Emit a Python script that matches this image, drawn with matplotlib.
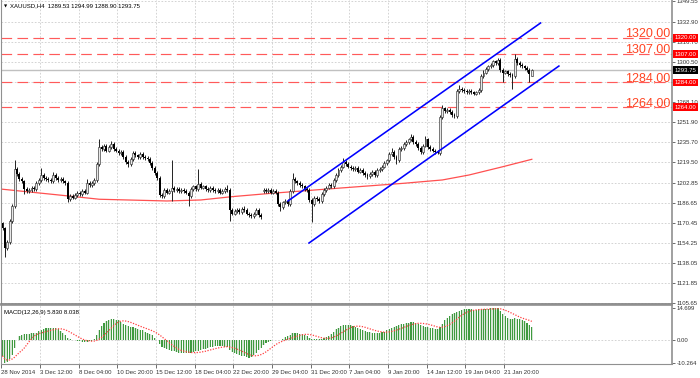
import matplotlib.pyplot as plt
import matplotlib.transforms as mtransforms
import numpy as np
import pandas as pd

plt.rcParams["font.family"] = ["Liberation Sans", "DejaVu Sans"]

# XAUUSD H4 closes (bar 0 = 28 Nov 2014)
closes = [
    1166, 1150, 1155, 1172, 1184, 1214, 1210, 1206, 1204, 1198,
    1196, 1197, 1199, 1198, 1203, 1205, 1209, 1207, 1206, 1205,
    1204, 1209, 1207, 1205, 1206, 1204, 1203, 1190, 1192, 1191,
    1193, 1195, 1194, 1196, 1195, 1203, 1201, 1203, 1205, 1218,
    1232, 1230, 1233, 1229, 1232, 1234, 1230, 1229, 1227, 1228,
    1224, 1220, 1218, 1222, 1227, 1225, 1224, 1226, 1224, 1223,
    1222, 1219, 1215, 1211, 1207, 1193, 1192, 1197, 1195, 1196,
    1199, 1197, 1198, 1196, 1197, 1196, 1195, 1192, 1198, 1200,
    1198, 1202, 1199, 1200, 1198, 1197, 1199, 1197, 1196, 1197,
    1195, 1196, 1198, 1197, 1181, 1178, 1180, 1181, 1179, 1182,
    1181, 1178, 1177, 1176, 1178, 1181, 1177, 1175, 1197, 1196,
    1197, 1195, 1196, 1195, 1186, 1183, 1187, 1188, 1186, 1196,
    1206, 1204, 1203, 1201, 1200, 1198, 1197, 1189, 1186, 1191,
    1190, 1188, 1194, 1197, 1199, 1201, 1200, 1205, 1209, 1213,
    1216, 1220, 1218, 1216, 1215, 1214, 1215, 1212, 1213, 1211,
    1209, 1208, 1210, 1212, 1209, 1213, 1214, 1216, 1219, 1221,
    1226, 1228, 1224, 1221, 1230, 1231, 1234, 1236, 1238, 1240,
    1236, 1234, 1231, 1228, 1233, 1238, 1232, 1230, 1229, 1228,
    1227, 1256, 1263, 1261, 1262, 1260, 1258, 1257, 1277, 1279,
    1278, 1277, 1276, 1277, 1276, 1275, 1276, 1278, 1289, 1292,
    1295, 1297, 1298, 1301, 1300, 1302, 1294, 1292, 1293, 1291,
    1290, 1289, 1303, 1300, 1298, 1297, 1296, 1294, 1291, 1293.75,
]
open_fix = {0: 1170, 108: 1196, 219: 1289.53}
high_fix = {5: 1221, 16: 1214.6, 21: 1212, 35: 1206, 40: 1238, 45: 1237,
            70: 1221, 81: 1214, 93: 1201, 100: 1184, 120: 1211, 141: 1223,
            161: 1231, 169: 1242.4, 175: 1241, 182: 1266, 189: 1282,
            199: 1294, 205: 1304, 212: 1307, 219: 1294.99}
low_fix = {1: 1143, 9: 1194, 27: 1187.5, 52: 1216, 70: 1188, 77: 1184,
           94: 1172, 115: 1180, 128: 1171.5, 151: 1206, 163: 1218,
           180: 1226, 207: 1284, 211: 1279, 218: 1284, 219: 1288.9}

macd = [
    -7.0, -10.2, -9.6, -8.6, -6.8, -3.6, 0.2, 1.8, 2.6, 2.9,
    3.0, 3.1, 3.2, 3.3, 3.5, 4.2, 4.6, 5.0, 5.4, 5.7,
    5.8, 5.8, 5.6, 5.0, 4.2, 3.2, 2.2, 1.0, 0.4, 0.2,
    0.0, -0.3, -0.5, -0.7, -0.8, -0.6, -0.4, -0.1, 0.8, 2.5,
    4.8, 6.5, 7.8, 8.8, 9.3, 9.6, 9.6, 9.4, 9.0, 8.3,
    7.6, 7.0, 6.6, 6.2, 6.0, 5.6, 5.2, 4.9, 4.5, 4.0,
    3.5, 3.0, 2.2, 1.2, 0.2, -1.5, -2.8, -3.5, -4.0, -4.4,
    -4.7, -5.0, -5.3, -5.5, -5.7, -5.8, -5.9, -5.9, -5.6, -5.3,
    -5.0, -4.6, -4.3, -4.0, -3.7, -3.4, -3.1, -2.9, -2.7, -2.6,
    -2.6, -2.7, -2.8, -3.0, -4.5, -5.3, -5.8, -6.3, -6.7, -7.0,
    -7.3, -7.6, -7.8, -7.5, -6.8, -5.8, -4.5, -3.5, -2.2, -1.2,
    -0.6, -0.2, 0.1, 0.3, 0.2, 0.3, 0.8, 1.4, 2.0, 2.6,
    3.2, 3.5, 3.4, 3.1, 2.7, 2.3, 1.8, 1.2, 0.8, 0.6,
    0.5, 0.4, 0.6, 0.9, 1.3, 2.0, 3.0, 4.0, 5.0, 5.8,
    6.4, 6.9, 7.0, 7.0, 6.8, 6.4, 6.0, 5.6, 5.2, 4.8,
    4.4, 4.0, 3.7, 3.5, 3.4, 3.4, 3.4, 3.6, 4.0, 4.5,
    5.0, 5.5, 6.0, 6.4, 6.8, 7.2, 7.5, 7.8, 8.0, 8.2,
    8.2, 8.0, 7.6, 7.0, 6.5, 6.2, 6.0, 5.7, 5.4, 5.2,
    5.0, 6.0, 7.6, 9.0, 10.2, 11.0, 11.8, 12.4, 13.0, 13.4,
    13.8, 14.0, 14.1, 14.1, 14.0, 13.9, 13.9, 14.0, 14.1, 14.2,
    14.2, 14.4, 14.5, 14.6, 14.7, 14.5, 13.2, 11.8, 10.8, 10.2,
    9.8, 9.6, 9.9, 9.8, 9.6, 9.3, 8.6, 7.8, 6.9, 5.83,
]

# moving average, read at a few bars
ma_idx = [0, 27, 40, 68, 82, 95, 110, 138, 166, 182, 193, 207, 219]
ma_vals = [1197.7, 1192.3, 1189.6, 1188.2, 1189.0, 1191.7, 1194.2,
           1198.4, 1202.5, 1205.2, 1209.2, 1215.9, 1221.9]

levels = [1320.0, 1307.0, 1284.0, 1264.0]
last_price = 1293.75
chan_upper_x = [118.1, 222.6]
chan_upper_y = [1188.2, 1332.1]
chan_lower_x = [126.8, 230.2]
chan_lower_y = [1154.2, 1297.3]

price_ticks = [1349.55, 1332.90, 1316.70, 1300.50, 1284.30, 1268.10,
               1251.90, 1235.70, 1219.50, 1202.85, 1186.65, 1170.45,
               1154.25, 1138.05, 1121.85, 1105.65]
hidden_ticks = [1284.30]  # sits under the 1284 level box
date_labels = ["28 Nov 2014", "3 Dec 12:00", "8 Dec 04:00", "10 Dec 20:00",
               "15 Dec 12:00", "18 Dec 04:00", "22 Dec 20:00", "29 Dec 04:00",
               "31 Dec 20:00", "7 Jan 04:00", "9 Jan 20:00", "14 Jan 12:00",
               "19 Jan 04:00", "21 Jan 20:00"]
macd_ticks = [14.699, 0.0, -10.264]

# build OHLC
n = len(closes)
idx = np.arange(n)
c = np.array(closes, dtype=float)
o = np.concatenate([[c[0]], c[:-1]])
for k, v in open_fix.items():
    o[k] = v
h = np.maximum(o, c) + 1.5
l = np.minimum(o, c) - 1.5
for k, v in high_fix.items():
    h[k] = v
for k, v in low_fix.items():
    l[k] = v
m = np.array(macd)
signal = pd.Series(m).rolling(9, min_periods=1).mean().values

W, H = 700, 378
fig = plt.figure(figsize=(7, 3.78), dpi=100)
left, right = 1.3, 672
ax = fig.add_axes([left / W, (H - 304) / H, (right - left) / W, 304 / H])
axm = fig.add_axes([left / W, (H - 364) / H, (right - left) / W, 59 / H])

xmax = (right - 2.5) / 2.417
tick_pos = [16 * k - 0.5 for k in range(len(date_labels))]
grid_kw = dict(color="#cccccc", linestyle=(0, (2, 2)), linewidth=0.6)
small = 4.3

# ---- price panel
ax.set_xlim(-0.5, xmax)
ax.set_ylim(1104.9, 1350.7)
for tp in tick_pos:
    ax.axvline(tp, zorder=0, **grid_kw)
for pt in price_ticks:
    ax.axhline(pt, zorder=0, **grid_kw)

ax.axhline(last_price, color="#c0c0c0", lw=1.0, zorder=1)
for lv in levels:
    ax.axhline(lv, color="#ff5a5a", lw=0.85, linestyle=(0, (9, 4.5)), zorder=1)

ax.plot(ma_idx, ma_vals, color="#ff5050", lw=0.9, zorder=2)

ax.vlines(idx, l, h, color="#222222", lw=0.7, zorder=3)
up = c >= o
ax.bar(idx[up], (c - o)[up], bottom=o[up], width=0.8, color="#e8e8e8",
       edgecolor="#333333", linewidth=0.45, zorder=4)
ax.bar(idx[~up], (o - c)[~up], bottom=c[~up], width=0.8, color="black",
       linewidth=0, zorder=4)

ax.plot(chan_upper_x, chan_upper_y, color="#0000ff", lw=1.15, zorder=5)
ax.plot(chan_lower_x, chan_lower_y, color="#0000ff", lw=1.15, zorder=5)

ax.yaxis.tick_right()
ax.set_yticks(price_ticks)
ax.set_yticklabels(["" if v in hidden_ticks else f"{v:.2f}" for v in price_ticks])
ax.tick_params(axis="y", labelsize=small, length=2, width=0.5, pad=1.2,
               colors="#333333")
ax.set_xticks([])
ax.spines["top"].set_visible(False)
ax.spines["right"].set_color("#909090")
ax.spines["right"].set_linewidth(1.2)
ax.spines["left"].set_color("#909090")
ax.spines["bottom"].set_color("#808080")
ax.spines["bottom"].set_linewidth(1.2)

tr = mtransforms.blended_transform_factory(ax.transAxes, ax.transData)
for lv in levels:
    ax.text(0.997, lv + 0.9, f"{lv:.2f}".replace(".", ","), transform=tr,
            ha="right", va="baseline", color="#ff4422", fontsize=9, zorder=6)
    ax.text(1.004, lv, f"{lv:.2f}", transform=tr, ha="left", va="center",
            color="white", fontsize=small, clip_on=False, zorder=7,
            bbox=dict(boxstyle="square,pad=0.25", fc="#ff0000", ec="none"))
ax.text(1.004, last_price, f"{last_price:.2f}", transform=tr, ha="left",
        va="center", color="white", fontsize=small, clip_on=False, zorder=7,
        bbox=dict(boxstyle="square,pad=0.25", fc="black", ec="none"))

fig.text(4 / W, 1 - 6 / H, "\u25bc", fontsize=3, va="center", ha="left",
         family=["DejaVu Sans"])
fig.text(10 / W, 1 - 6 / H, "XAUUSD,H4  1289.53 1294.99 1288.90 1293.75",
         fontsize=small, va="center", ha="left", color="black")

# ---- MACD panel
axm.set_xlim(-0.5, xmax)
axm.set_ylim(-10.7, 16.0)
for tp in tick_pos:
    axm.axvline(tp, zorder=0, **grid_kw)
axm.axhline(0, zorder=0, **grid_kw)
axm.bar(idx, m, width=0.9, color="#d6e6d6", linewidth=0, zorder=1)
axm.bar(idx, m, width=0.45, color="#3f9a3f", linewidth=0, zorder=2)
axm.plot(idx, signal, color="#ff4040", lw=0.9, linestyle=(0, (1, 1.2)),
         zorder=3)

axm.yaxis.tick_right()
axm.set_yticks(macd_ticks)
axm.set_yticklabels(["14.699", "0.00", "-10.264"])
axm.tick_params(axis="y", labelsize=small, length=2, width=0.5, pad=1.2,
                colors="#333333")
axm.set_xticks(tick_pos)
axm.set_xticklabels(date_labels)
axm.tick_params(axis="x", labelsize=small, length=3, width=0.5, pad=1.0,
                colors="#333333")
for lab in axm.get_xticklabels():
    lab.set_ha("left")
for s in ["top", "bottom", "left", "right"]:
    axm.spines[s].set_color("#909090")
axm.spines["right"].set_linewidth(1.2)
axm.spines["top"].set_linewidth(1.2)
axm.text(3 / (right - left), 0.88, "MACD(12,26,9) 5.830 8.038",
         transform=axm.transAxes, fontsize=small, va="center", ha="left")

fig.savefig("out.png", dpi=100)
